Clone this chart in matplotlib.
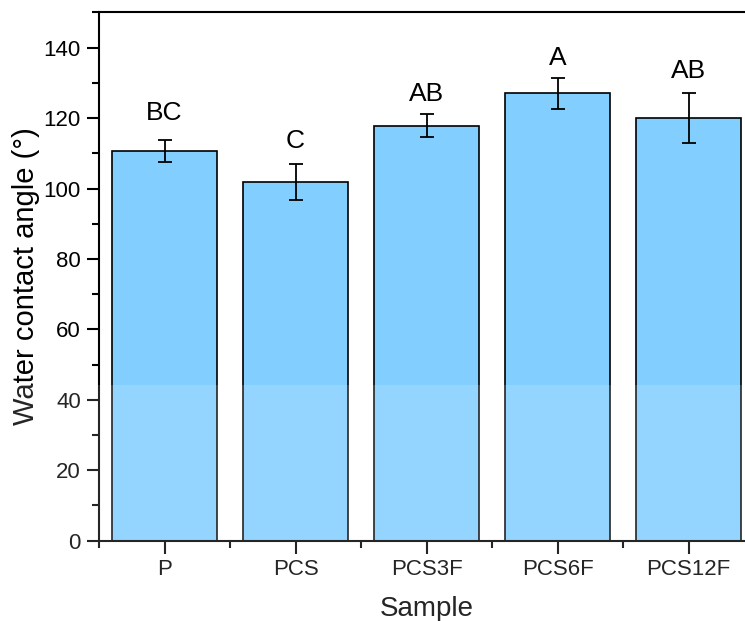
import matplotlib
matplotlib.use("Agg")
import matplotlib.pyplot as plt
from matplotlib.ticker import MultipleLocator
import numpy as np

samples = ["P", "PCS", "PCS3F", "PCS6F", "PCS12F"]
means = [110.6, 101.9, 117.9, 127.0, 120.0]
sds = [3.1, 5.1, 3.25, 4.4, 7.2]
letters = ["BC", "C", "AB", "A", "AB"]
letter_y = [119.4, 111.6, 125.0, 135.1, 131.3]

plt.rcParams['font.family'] = ['Liberation Sans', 'DejaVu Sans']

fig = plt.figure(figsize=(7.45, 6.21), dpi=100)
ax = fig.add_axes([0.1329, 0.1293, 0.8795, 0.8506])

x = np.arange(1, len(samples) + 1)
ax.bar(x, means, width=0.8, color="#82CEFF", edgecolor="black", linewidth=1.2, zorder=2)
ax.errorbar(x, means, yerr=sds, fmt="none", ecolor="black", elinewidth=1.3,
            capsize=5, capthick=1.3, zorder=3)
for xi, ly, l in zip(x, letter_y, letters):
    ax.text(xi, ly, l, ha="center", va="baseline", fontsize=19)

ax.set_xlim(0.5, 5.5)
ax.set_ylim(0, 150)
ax.set_xticks(x)
ax.set_xticklabels(samples)
ax.xaxis.set_minor_locator(MultipleLocator(1, offset=0.5))
ax.yaxis.set_major_locator(MultipleLocator(20))
ax.yaxis.set_minor_locator(MultipleLocator(10))
ax.set_yticks(np.arange(0, 141, 20))
ax.tick_params(which="major", direction="out", length=9, width=1.5, labelsize=16, pad=4)
ax.tick_params(which="minor", direction="out", length=5, width=1.5)
ax.tick_params(axis="y", which="both", right=False)
for sp in ax.spines.values():
    sp.set_linewidth(1.5)
ax.set_ylabel("Water contact angle (°)", fontsize=21, labelpad=3)
ax.set_xlabel("Sample", fontsize=20, labelpad=12)

# lighter band (bottom part of the reference image is washed out)
fig.patches.append(plt.Rectangle((0, 0), 1, 1 - 385 / 621, transform=fig.transFigure,
                                 facecolor="white", alpha=0.15, edgecolor="none", zorder=10))

fig.savefig("out.png", dpi=100)
